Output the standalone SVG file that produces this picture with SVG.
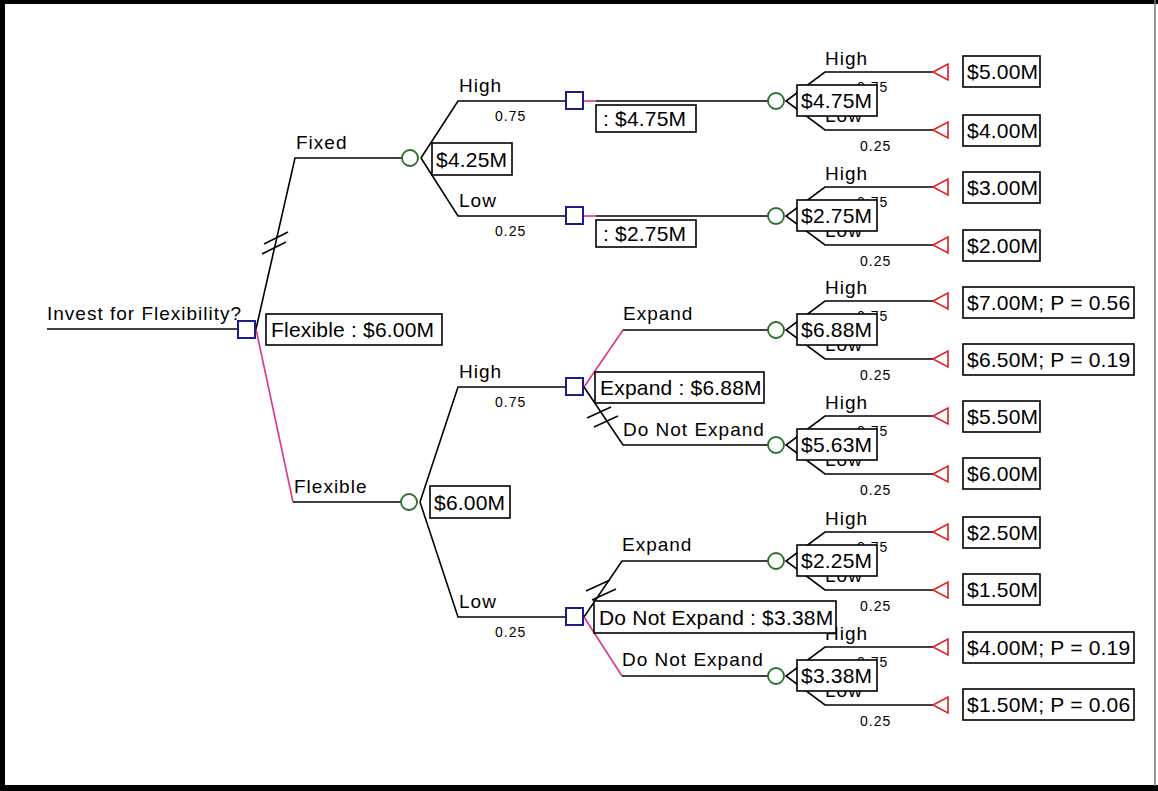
<svg xmlns="http://www.w3.org/2000/svg" width="1158" height="791" viewBox="0 0 1158 791">
<style>
.ln{stroke:#000;stroke-width:1.6;fill:none}
.pk{stroke:#e0338a;stroke-width:1.6;fill:none}
.sl{stroke:#000;stroke-width:1.4;fill:none}
.dec{fill:#fff;stroke:#1c1c8c;stroke-width:2}
.ch{fill:#fff;stroke:#2a6e2a;stroke-width:1.8}
.term{fill:#fff;stroke:#e02020;stroke-width:1.6}
.box{fill:#fff;stroke:#000;stroke-width:1.6}
.lb{font-family:"Liberation Sans",Arial,sans-serif;font-size:19px;letter-spacing:1px;fill:#000}
.pr{font-family:"Liberation Sans",Arial,sans-serif;font-size:14px;letter-spacing:1px;fill:#000}
.vt{font-family:"Liberation Sans",Arial,sans-serif;font-size:21px;letter-spacing:0.2px;fill:#000}
</style>
<rect x="0" y="0" width="1158" height="791" fill="#fff"/>
<g id="frame">
<rect x="0" y="0" width="1158" height="4" fill="#000"/>
<rect x="0" y="0" width="5" height="791" fill="#000"/>
<rect x="0" y="785" width="1158" height="6" fill="#000"/>
<line x1="1155" y1="0" x2="1155" y2="786" stroke="#777" stroke-width="1.5"/>
</g>
<g id="connectors">
<line class="ln" x1="47" y1="329" x2="238" y2="329"/>
<polyline class="ln" points="256,329 295,158 402,158"/>
<polyline class="pk" points="256,329 293,502"/>
<line class="ln" x1="293" y1="502" x2="401" y2="502"/>
<line class="sl" x1="264" y1="244" x2="288" y2="232"/>
<line class="sl" x1="262" y1="254" x2="286" y2="242"/>
<polyline class="ln" points="421,158 458,101 566,101"/>
<polyline class="ln" points="421,158 458,216 566,216"/>
<polyline class="ln" points="420,502 458,387 565,387"/>
<polyline class="ln" points="420,502 458,617 565,617"/>
<line class="pk" x1="584" y1="101" x2="596" y2="101"/>
<line class="ln" x1="596" y1="101" x2="768" y2="101"/>
<line class="pk" x1="584" y1="216" x2="596" y2="216"/>
<line class="ln" x1="596" y1="216" x2="768" y2="216"/>
<polyline class="pk" points="584,387 623,330"/>
<line class="ln" x1="623" y1="330" x2="768" y2="330"/>
<polyline class="ln" points="584,387 623,445 768,445"/>
<line class="sl" x1="587" y1="418" x2="611" y2="407"/>
<line class="sl" x1="594" y1="427" x2="618" y2="416"/>
<polyline class="ln" points="584,617 622,561 768,561"/>
<polyline class="pk" points="584,617 622,676"/>
<line class="ln" x1="622" y1="676" x2="768" y2="676"/>
<line class="sl" x1="586" y1="591" x2="610" y2="580"/>
<line class="sl" x1="592" y1="600" x2="616" y2="589"/>
<polyline class="ln" points="933,72 825,72 786,101 825,130 933,130"/>
<polyline class="ln" points="933,187 825,187 786,216 825,245 933,245"/>
<polyline class="ln" points="933,301 825,301 786,330 825,359 933,359"/>
<polyline class="ln" points="933,416 825,416 786,445 825,474 933,474"/>
<polyline class="ln" points="933,532 825,532 786,561 825,590 933,590"/>
<polyline class="ln" points="933,647 825,647 786,676 825,705 933,705"/>
</g>
<g id="labels">
<text class="lb" x="47" y="320">Invest for Flexibility?</text>
<text class="lb" x="296" y="149">Fixed</text>
<text class="lb" x="294" y="493">Flexible</text>
<text class="lb" x="459" y="92">High</text>
<text class="pr" x="495" y="121">0.75</text>
<text class="lb" x="459" y="207">Low</text>
<text class="pr" x="495" y="236">0.25</text>
<text class="lb" x="459" y="378">High</text>
<text class="pr" x="495" y="407">0.75</text>
<text class="lb" x="459" y="608">Low</text>
<text class="pr" x="495" y="637">0.25</text>
<text class="lb" x="623" y="320">Expand</text>
<text class="lb" x="623" y="436">Do Not Expand</text>
<text class="lb" x="622" y="551">Expand</text>
<text class="lb" x="622" y="666">Do Not Expand</text>
<text class="lb" x="825" y="65">High</text><text class="pr" x="857" y="92">0.75</text><text class="lb" x="825" y="122">Low</text><text class="pr" x="860" y="151">0.25</text>
<text class="lb" x="825" y="180">High</text><text class="pr" x="857" y="207">0.75</text><text class="lb" x="825" y="237">Low</text><text class="pr" x="860" y="266">0.25</text>
<text class="lb" x="825" y="294">High</text><text class="pr" x="857" y="321">0.75</text><text class="lb" x="825" y="351">Low</text><text class="pr" x="860" y="380">0.25</text>
<text class="lb" x="825" y="409">High</text><text class="pr" x="857" y="436">0.75</text><text class="lb" x="825" y="466">Low</text><text class="pr" x="860" y="495">0.25</text>
<text class="lb" x="825" y="525">High</text><text class="pr" x="857" y="552">0.75</text><text class="lb" x="825" y="582">Low</text><text class="pr" x="860" y="611">0.25</text>
<text class="lb" x="825" y="640">High</text><text class="pr" x="857" y="667">0.75</text><text class="lb" x="825" y="697">Low</text><text class="pr" x="860" y="726">0.25</text>
</g>
<g id="root">
<rect class="dec" x="238" y="321" width="17" height="17"/>
<rect class="box" x="266" y="314" width="176" height="31"/>
<text class="vt" x="271" y="337">Flexible : $6.00M</text>
</g>
<g id="chance-fixed">
<circle class="ch" cx="410" cy="158" r="8"/>
<rect class="box" x="432" y="143" width="80" height="32"/>
<text class="vt" x="436" y="167">$4.25M</text>
</g>
<g id="chance-flexible">
<circle class="ch" cx="409" cy="502" r="8"/>
<rect class="box" x="430" y="486" width="80" height="32"/>
<text class="vt" x="434" y="510">$6.00M</text>
</g>
<g id="dec-fixed-high">
<rect class="dec" x="566" y="92" width="17" height="17"/>
<rect class="box" x="596" y="105" width="100" height="27"/>
<text class="vt" x="603" y="126">: $4.75M</text>
</g>
<g id="dec-fixed-low">
<rect class="dec" x="566" y="207" width="17" height="17"/>
<rect class="box" x="596" y="220" width="100" height="27"/>
<text class="vt" x="603" y="241">: $2.75M</text>
</g>
<g id="dec-flex-high">
<rect class="dec" x="566" y="378" width="17" height="17"/>
<rect class="box" x="595" y="372" width="169" height="31"/>
<text class="vt" x="600" y="395">Expand : $6.88M</text>
</g>
<g id="dec-flex-low">
<rect class="dec" x="566" y="608" width="17" height="17"/>
<rect class="box" x="594" y="601" width="242" height="32"/>
<text class="vt" x="599" y="625">Do Not Expand : $3.38M</text>
</g>
<g id="chance-1">
<circle class="ch" cx="776" cy="101" r="8"/>
<rect class="box" x="797" y="85" width="80" height="31"/>
<text class="vt" x="801" y="108">$4.75M</text>
</g>
<g id="chance-2">
<circle class="ch" cx="776" cy="216" r="8"/>
<rect class="box" x="797" y="200" width="80" height="31"/>
<text class="vt" x="801" y="223">$2.75M</text>
</g>
<g id="chance-3">
<circle class="ch" cx="776" cy="330" r="8"/>
<rect class="box" x="797" y="314" width="80" height="31"/>
<text class="vt" x="801" y="337">$6.88M</text>
</g>
<g id="chance-4">
<circle class="ch" cx="776" cy="445" r="8"/>
<rect class="box" x="797" y="429" width="80" height="31"/>
<text class="vt" x="801" y="452">$5.63M</text>
</g>
<g id="chance-5">
<circle class="ch" cx="776" cy="561" r="8"/>
<rect class="box" x="797" y="545" width="80" height="31"/>
<text class="vt" x="801" y="568">$2.25M</text>
</g>
<g id="chance-6">
<circle class="ch" cx="776" cy="676" r="8"/>
<rect class="box" x="797" y="660" width="80" height="31"/>
<text class="vt" x="801" y="683">$3.38M</text>
</g>
<g id="term-1"><polygon class="term" points="933,72 948,64 948,80"/><rect class="box" x="963" y="56" width="77" height="31"/><text class="vt" x="967" y="79">$5.00M</text></g>
<g id="term-2"><polygon class="term" points="933,130 948,122 948,138"/><rect class="box" x="963" y="115" width="77" height="31"/><text class="vt" x="967" y="138">$4.00M</text></g>
<g id="term-3"><polygon class="term" points="933,187 948,179 948,195"/><rect class="box" x="963" y="172" width="77" height="31"/><text class="vt" x="967" y="195">$3.00M</text></g>
<g id="term-4"><polygon class="term" points="933,245 948,237 948,253"/><rect class="box" x="963" y="230" width="77" height="31"/><text class="vt" x="967" y="253">$2.00M</text></g>
<g id="term-5"><polygon class="term" points="933,301 948,293 948,309"/><rect class="box" x="963" y="287" width="171" height="31"/><text class="vt" x="967" y="310">$7.00M; P = 0.56</text></g>
<g id="term-6"><polygon class="term" points="933,359 948,351 948,367"/><rect class="box" x="963" y="344" width="171" height="31"/><text class="vt" x="967" y="367">$6.50M; P = 0.19</text></g>
<g id="term-7"><polygon class="term" points="933,416 948,408 948,424"/><rect class="box" x="963" y="401" width="77" height="31"/><text class="vt" x="967" y="424">$5.50M</text></g>
<g id="term-8"><polygon class="term" points="933,474 948,466 948,482"/><rect class="box" x="963" y="458" width="77" height="31"/><text class="vt" x="967" y="481">$6.00M</text></g>
<g id="term-9"><polygon class="term" points="933,532 948,524 948,540"/><rect class="box" x="963" y="517" width="77" height="31"/><text class="vt" x="967" y="540">$2.50M</text></g>
<g id="term-10"><polygon class="term" points="933,590 948,582 948,598"/><rect class="box" x="963" y="574" width="77" height="31"/><text class="vt" x="967" y="597">$1.50M</text></g>
<g id="term-11"><polygon class="term" points="933,647 948,639 948,655"/><rect class="box" x="963" y="632" width="171" height="31"/><text class="vt" x="967" y="655">$4.00M; P = 0.19</text></g>
<g id="term-12"><polygon class="term" points="933,705 948,697 948,713"/><rect class="box" x="963" y="689" width="171" height="31"/><text class="vt" x="967" y="712">$1.50M; P = 0.06</text></g>
</svg>
